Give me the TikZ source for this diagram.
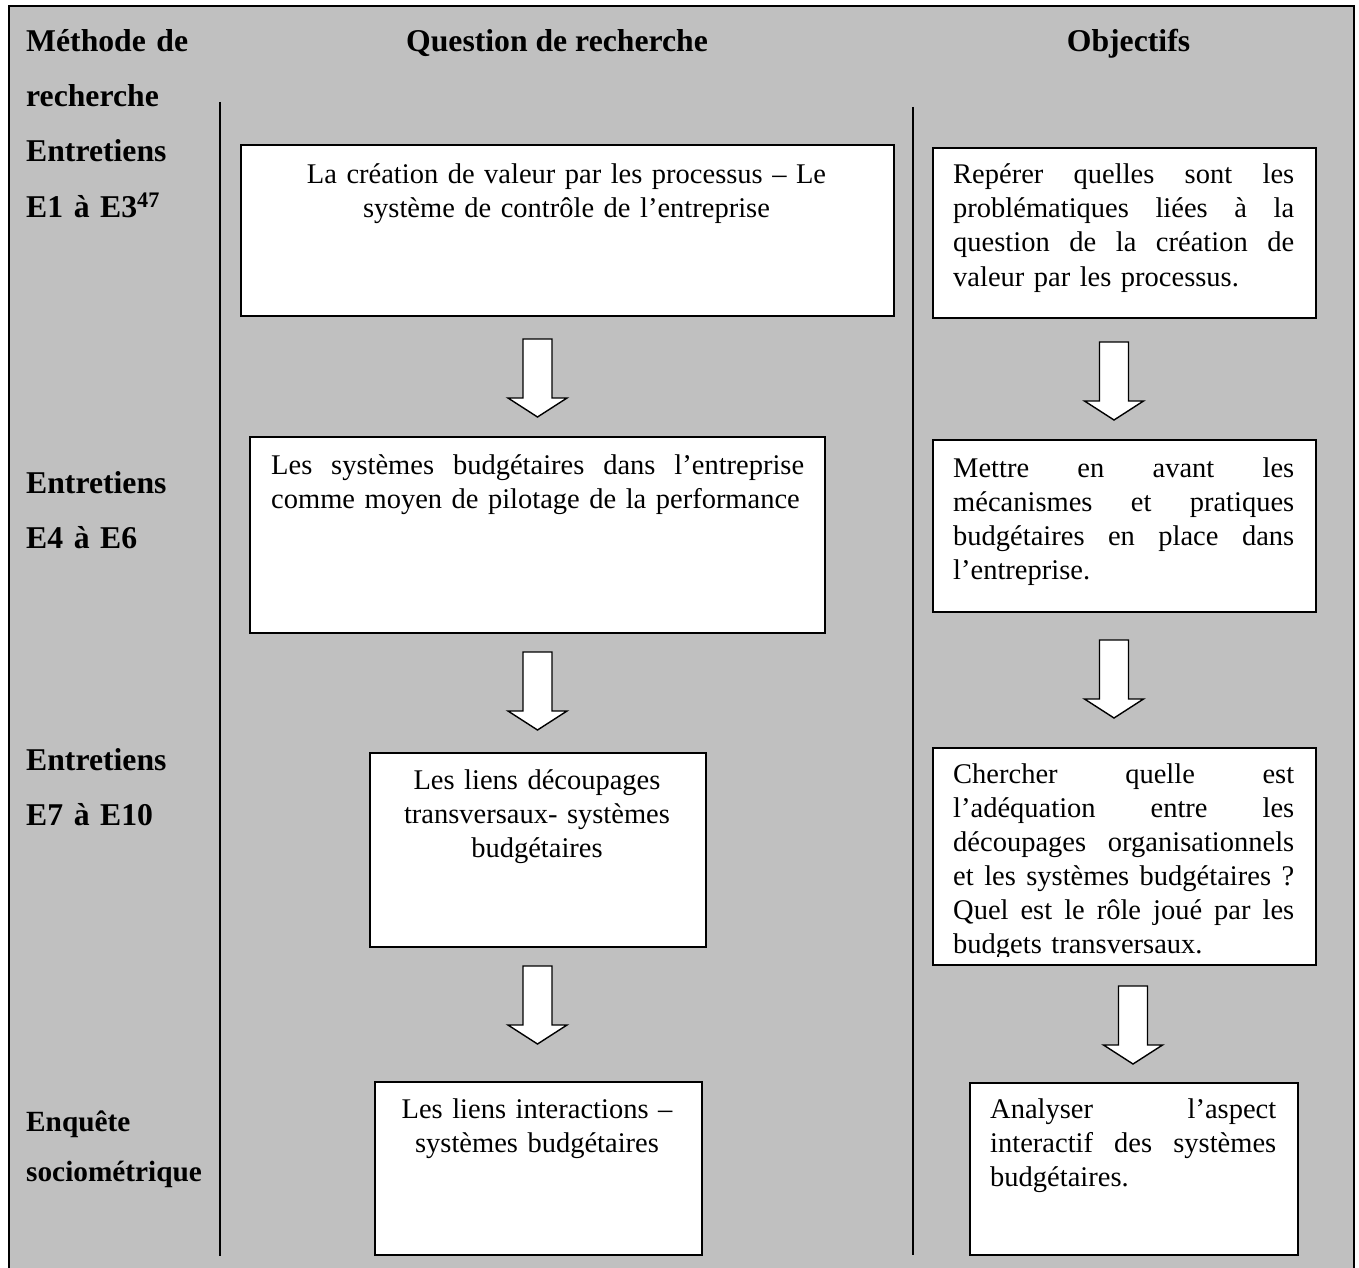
\documentclass[tikz,border=0pt]{standalone}
\usepackage{fontspec}
\setmainfont{Liberation Serif}
\definecolor{panelgray}{RGB}{192,192,192}
% a justified line: interword spaces stretch to fill the given width
\newcommand\jline[2]{\leavevmode\hbox to #1{\spaceskip=\fontdimen2\font plus 1fil\relax #2}}
\tikzset{
  frameline/.style={draw=black, line width=1.8pt, fill=panelgray},
  divider/.style={draw=black, line width=1.6pt},
  box/.style={draw=black, fill=white, line width=1.6pt, inner sep=0pt, anchor=north west},
  arrowbody/.style={draw=black, fill=white, line width=1.4pt, line join=miter},
  boxtext/.style={inner sep=0pt, anchor=base west, align=left, font=\fontsize{28.5}{34}\selectfont},
  ctext/.style={inner sep=0pt, anchor=base, align=center, font=\fontsize{28.5}{34}\selectfont},
  head/.style={inner sep=0pt, anchor=base west, align=left, text width=195pt, font=\bfseries\fontsize{31.7}{55}\selectfont},
  colhead/.style={inner sep=0pt, anchor=base, font=\bfseries\fontsize{31.7}{38}\selectfont},
  downarrow/.pic={
    \draw[arrowbody] (-14.5,0) -- (14.5,0) -- (14.5,59) -- (29.5,59) -- (0,78)
      -- (-29.5,59) -- (-14.5,59) -- cycle;
  }
}
\begin{document}
\begin{tikzpicture}[x=1pt, y=-1pt]
  \fill[white] (0,0) rectangle (1359,1268);
  \clip (0,0) rectangle (1359,1268);

  % grey panel with its frame (open at the bottom edge)
  \draw[frameline] (9,6) rectangle (1354,1295);

  % column separators
  \draw[divider] (220,102) -- (220,1256);
  \draw[divider] (913,107) -- (913,1255);

  % column headings
  \node[colhead] (hq) at (557,52) {Question de recherche};
  \node[colhead] (ho) at (1128.5,52) {Objectifs};

  % left column: research method
  \node[head] (m1) at (26,52) {Méthode de\\recherche};
  \node[head] (m2) at (26,162) {Entretiens\\E1 à E3\textsuperscript{47}};
  \node[head] (m3) at (26,493) {Entretiens\\E4 à E6};
  \node[head] (m4) at (26,770) {Entretiens\\E7 à E10};
  \node[head, font=\bfseries\fontsize{29.3}{50}\selectfont] (m5) at (26,1131) {Enquête\\sociométrique};

  % middle column: research questions
  \node[box, minimum width=653pt, minimum height=171pt] (q1) at (240,144) {};
  \node[box, minimum width=575pt, minimum height=196pt] (q2) at (249,436) {};
  \node[box, minimum width=336pt, minimum height=194pt] (q3) at (369,752) {};
  \node[box, minimum width=327pt, minimum height=173pt] (q4) at (374,1081) {};

  \node[ctext, text width=640pt] (tq1) at (566.5,183)
    {La création de valeur par les processus – Le\\système de contrôle de l’entreprise};
  \node[boxtext, text width=560pt] (tq2) at (271,474)
    {\jline{533pt}{Les systèmes budgétaires dans l’entreprise}\\comme moyen de pilotage de la performance};
  \node[ctext, text width=320pt] (tq3) at (537,789)
    {Les liens découpages\\transversaux- systèmes\\budgétaires};
  \node[ctext, text width=320pt] (tq4) at (537,1118)
    {Les liens interactions –\\systèmes budgétaires};

  \pic at (537.5,339) {downarrow};
  \pic at (537.5,652) {downarrow};
  \pic at (537.5,966) {downarrow};

  % right column: objectives
  \node[box, minimum width=383pt, minimum height=170pt] (o1) at (932,147) {};
  \node[box, minimum width=383pt, minimum height=172pt] (o2) at (932,439) {};
  \node[box, minimum width=383pt, minimum height=217pt] (o3) at (932,747) {};
  \node[box, minimum width=328pt, minimum height=172pt] (o4) at (969,1082) {};

  \node[boxtext, text width=350pt] (to1) at (953,184)
    {\jline{341pt}{Repérer quelles sont les}\\\jline{341pt}{problématiques liées à la}\\\jline{341pt}{question de la création de}\\valeur par les processus.};
  \node[boxtext, text width=350pt] (to2) at (953,477)
    {\jline{341pt}{Mettre en avant les}\\\jline{341pt}{mécanismes et pratiques}\\\jline{341pt}{budgétaires en place dans}\\l’entreprise.};
  \begin{scope}
    \clip (933,748) rectangle (1314,956);
    \node[boxtext, text width=350pt] (to3) at (953,783)
      {\jline{341pt}{Chercher quelle est}\\\jline{341pt}{l’adéquation entre les}\\\jline{341pt}{découpages organisationnels}\\\jline{341pt}{et les systèmes budgétaires ?}\\\jline{341pt}{Quel est le rôle joué par les}\\budgets transversaux.};
  \end{scope}
  \node[boxtext, text width=295pt] (to4) at (990,1118)
    {\jline{286pt}{Analyser l’aspect}\\\jline{286pt}{interactif des systèmes}\\budgétaires.};

  \pic at (1114,342) {downarrow};
  \pic at (1114,640) {downarrow};
  \pic at (1133,986) {downarrow};
\end{tikzpicture}
\end{document}
